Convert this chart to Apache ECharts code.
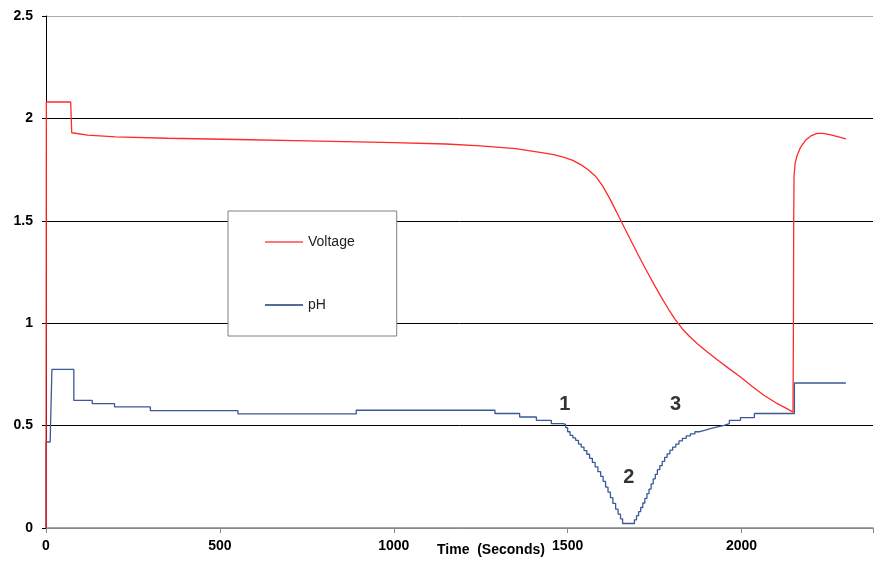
<!DOCTYPE html>
<html>
<head>
<meta charset="utf-8">
<script src="https://cdn.jsdelivr.net/npm/echarts@6/dist/echarts.min.js"></script>
<style>
  html, body { margin: 0; padding: 0; background: #fff; }
  #chart { width: 876px; height: 563px; }
</style>
</head>
<body>
<div id="chart"></div>
<script>
// voltage trace [time (s), value]
var voltage = [
  [0, 0], [1, 2.08], [71, 2.08], [74, 1.93], [120, 1.918], [200, 1.91], [350, 1.903],
  [550, 1.897], [750, 1.89], [1000, 1.882], [1150, 1.875], [1250, 1.866], [1350, 1.852],
  [1430, 1.832], [1460, 1.823], [1490, 1.81], [1515, 1.795], [1540, 1.772], [1560, 1.748],
  [1580, 1.718], [1600, 1.672], [1620, 1.612], [1640, 1.545], [1660, 1.477], [1680, 1.41],
  [1700, 1.343], [1725, 1.262], [1750, 1.185], [1770, 1.125], [1790, 1.068], [1810, 1.016],
  [1830, 0.972], [1850, 0.936], [1873, 0.9], [1900, 0.862], [1931, 0.82], [1965, 0.777],
  [1997, 0.737], [2030, 0.692], [2064, 0.648], [2100, 0.61], [2125, 0.588], [2148, 0.566],
  [2149, 0.9], [2150, 1.5], [2151, 1.72], [2154, 1.78], [2160, 1.82], [2170, 1.86],
  [2185, 1.895], [2200, 1.915], [2217, 1.927], [2235, 1.927], [2260, 1.918], [2300, 1.9]
];

// pH trace, stepped [start time (s), value]
var ph = [
  [0, 0], [0, 0.42], [12, 0.42], [17, 0.775], [80, 0.623], [133, 0.607], [197, 0.591],
  [300, 0.573], [552, 0.557], [892, 0.575], [1291, 0.559], [1362, 0.542], [1410, 0.526],
  [1453, 0.51], [1487, 0.506], [1494, 0.49], [1500, 0.47], [1507, 0.452], [1515, 0.44],
  [1523, 0.428], [1531, 0.41], [1539, 0.395], [1547, 0.378], [1555, 0.36], [1563, 0.34],
  [1571, 0.32], [1579, 0.298], [1587, 0.275], [1595, 0.252], [1602, 0.228], [1609, 0.2],
  [1616, 0.175], [1623, 0.148], [1630, 0.12], [1638, 0.092], [1645, 0.068], [1652, 0.045],
  [1658, 0.022], [1692, 0.04], [1698, 0.06], [1704, 0.08], [1710, 0.1], [1716, 0.122],
  [1722, 0.145], [1728, 0.168], [1734, 0.19], [1740, 0.215], [1746, 0.24], [1752, 0.262],
  [1758, 0.285], [1765, 0.305], [1772, 0.325], [1779, 0.345], [1786, 0.362], [1794, 0.38],
  [1802, 0.395], [1811, 0.41], [1820, 0.425], [1830, 0.438], [1841, 0.45], [1853, 0.46],
  [1866, 0.47], [1880, 0.478], [1896, 0.487], [1913, 0.494], [1931, 0.501], [1950, 0.51],
  [1965, 0.526], [1997, 0.539], [2037, 0.559], [2152, 0.708], [2300, 0.708]
];

// numbered notes on the pH dip [time, value, label]
var notes = [[1492, 0.604, '1'], [1676, 0.248, '2'], [1810, 0.604, '3']];

var chart = document.getElementById('chart');
var myChart = echarts.init(chart);

var font = 'Liberation Sans, Arial, sans-serif';

option = {
    animation: false,
    grid: { left: 46, right: 0, top: 16, bottom: 35 },
    legend: {
        left: 228,
        top: 211,
        orient: 'vertical',
        data: ['Voltage', 'pH'],
        icon: 'rect',
        padding: [23, 42, 23, 37],
        itemGap: 47,
        itemWidth: 38,
        itemHeight: 1.5,
        backgroundColor: '#fff',
        borderColor: '#808080',
        borderWidth: 1,
        textStyle: { fontFamily: font, fontSize: 14, color: '#222', lineHeight: 16 }
    },
    xAxis: {
        type: 'value',
        min: 0,
        max: 2378,
        interval: 500,
        axisLine: { lineStyle: { color: '#888', width: 1.5 } },
        axisTick: { show: true, length: 5, lineStyle: { color: '#888' } },
        splitLine: { show: false },
        axisLabel: {
            fontFamily: font, fontSize: 14, fontWeight: 'bold', color: '#000', margin: 11,
            formatter: function (v) { return v % 500 === 0 ? String(v) : ''; }
        }
    },
    yAxis: {
        type: 'value',
        min: 0,
        max: 2.5,
        interval: 0.5,
        axisLine: { show: true, lineStyle: { color: '#000', width: 1 } },
        axisTick: { show: true, length: 4, lineStyle: { color: '#000' } },
        splitLine: {
            show: true,
            lineStyle: { color: ['#888', '#000', '#000', '#000', '#000', '#aaa'], width: 1 }
        },
        axisLabel: { fontFamily: font, fontSize: 14, fontWeight: 'bold', color: '#000', margin: 13 }
    },
    graphic: [{
        type: 'text',
        left: 437,
        top: 543,
        style: { text: 'Time  (Seconds)', font: 'bold 14px ' + font, fill: '#000' }
    }],
    series: [
        {
            name: 'Voltage',
            type: 'line',
            symbol: 'none',
            lineStyle: { color: '#ff2a2a', width: 1.3 },
            itemStyle: { color: '#ff4a4a' },
            data: voltage,
            z: 3
        },
        {
            name: 'pH',
            type: 'line',
            step: 'end',
            symbol: 'none',
            lineStyle: { color: '#3b5998', width: 1.3 },
            itemStyle: { color: '#1f3a7a' },
            data: ph,
            z: 2
        },
        {
            name: 'notes',
            type: 'scatter',
            symbolSize: 0,
            data: notes,
            label: {
                show: true,
                position: 'inside',
                formatter: function (p) { return p.value[2]; },
                fontFamily: font,
                fontSize: 20,
                fontWeight: 900,
                color: '#000',
                textBorderWidth: 0
            },
            z: 4
        }
    ]
};

myChart.setOption(option);
</script>
</body>
</html>
